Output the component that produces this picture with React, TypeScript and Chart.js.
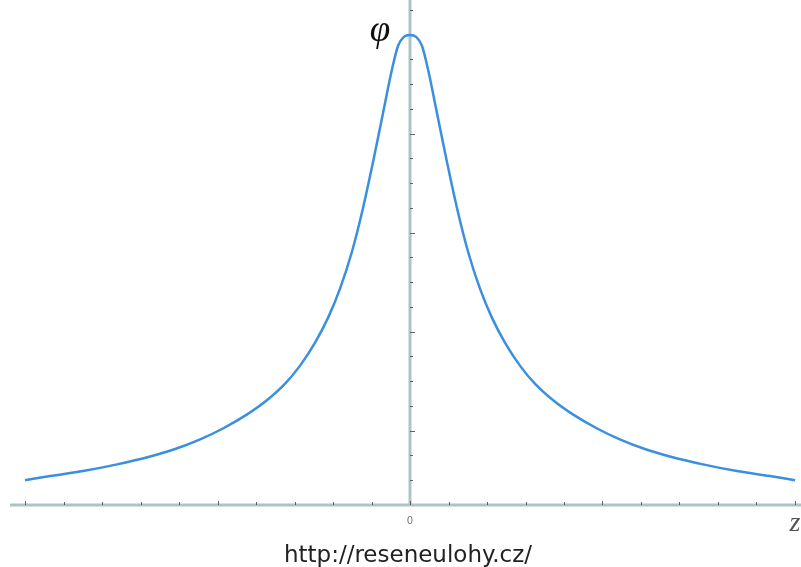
import React, { useEffect, useRef } from "react";
import { Chart, registerables } from "chart.js";

Chart.register(...registerables);

// z values (axis units) and potential values
const zValues = [
  -10, -9.35, -8.49, -7.61, -6.75, -6.1, -5.45, -4.86, -4.23, -3.71, -3.25, -2.86, -2.47, -2.13, -1.82, -1.51, -1.22, -0.96, -0.7, -0.47, -0.31, -0.16,
  0,
  0.16, 0.31, 0.47, 0.7, 0.96, 1.22, 1.51, 1.82, 2.13, 2.47, 2.86, 3.25, 3.71, 4.23, 4.86, 5.45, 6.1, 6.75, 7.61, 8.49, 9.35, 10,
];
const phiValues = [
  1.0, 1.17, 1.37, 1.64, 1.96, 2.26, 2.65, 3.09, 3.66, 4.24, 4.89, 5.62, 6.55, 7.56, 8.73, 10.22, 12.0, 13.86, 15.84, 17.58, 18.55, 18.91,
  18.99,
  18.91, 18.55, 17.58, 15.84, 13.86, 12.0, 10.22, 8.73, 7.56, 6.55, 5.62, 4.89, 4.24, 3.66, 3.09, 2.65, 2.26, 1.96, 1.64, 1.37, 1.17, 1.0,
];

const xTicks = [-10, -9, -8, -7, -6, -5, -4, -3, -2, -1, 0, 1, 2, 3, 4, 5, 6, 7, 8, 9, 10];
const xMajorTicks = [-10, -5, 0, 5, 10];
const yTicks = [1, 2, 3, 4, 5, 6, 7, 8, 9, 10, 11, 12, 13, 14, 15, 16, 17, 18, 19, 20];
const yMajorTicks = [3, 7, 11, 15, 19];
const originLabel = "0";
const xAxisTitle = "z";
const yAxisTitle = "φ";
const footerText = "http://reseneulohy.cz/";

const axesPlugin = {
  id: "centerAxes",
  beforeDatasetsDraw(chart: any) {
    const ctx = chart.ctx;
    const xs = chart.scales.x;
    const ys = chart.scales.y;
    const x0 = xs.getPixelForValue(0);
    const y0 = ys.getPixelForValue(0);
    ctx.save();
    ctx.strokeStyle = "#aec3c6";
    ctx.lineWidth = 3;
    ctx.beginPath();
    ctx.moveTo(xs.left, y0);
    ctx.lineTo(chart.width, y0);
    ctx.stroke();
    ctx.beginPath();
    ctx.moveTo(x0, ys.top);
    ctx.lineTo(x0, y0);
    ctx.stroke();

    ctx.strokeStyle = "rgba(70,75,75,0.85)";
    ctx.lineWidth = 1;
    xTicks.forEach((t) => {
      const px = Math.round(xs.getPixelForValue(t)) + 0.5;
      const major = xMajorTicks.includes(t);
      ctx.beginPath();
      ctx.moveTo(px, y0 - (major ? 4 : 3));
      ctx.lineTo(px, y0);
      ctx.stroke();
    });
    yTicks.forEach((t) => {
      const py = Math.round(ys.getPixelForValue(t)) + 0.5;
      const major = yMajorTicks.includes(t);
      ctx.beginPath();
      ctx.moveTo(x0, py);
      ctx.lineTo(x0 + (major ? 5 : 3), py);
      ctx.stroke();
    });
    ctx.restore();
  },
  afterDraw(chart: any) {
    const ctx = chart.ctx;
    const xs = chart.scales.x;
    const ys = chart.scales.y;
    const x0 = xs.getPixelForValue(0);
    const y0 = ys.getPixelForValue(0);
    ctx.save();
    ctx.textAlign = "center";
    ctx.textBaseline = "middle";
    ctx.fillStyle = "#777";
    ctx.font = "10px 'DejaVu Sans'";
    ctx.fillText(originLabel, x0, y0 + 16);

    ctx.fillStyle = "#555";
    ctx.font = "italic 28px 'Liberation Serif'";
    ctx.fillText(xAxisTitle, chart.width - 6, y0 + 19);

    ctx.fillStyle = "#111";
    ctx.font = "italic 37px 'Liberation Serif'";
    ctx.fillText(yAxisTitle, x0 - 30, 31);

    ctx.fillStyle = "#222";
    ctx.font = "23px 'DejaVu Sans'";
    ctx.textBaseline = "alphabetic";
    ctx.fillText(footerText, x0 - 2, 562);
    ctx.restore();
  },
};

export default function App() {
  const ref = useRef<HTMLCanvasElement>(null);
  useEffect(() => {
    if (!ref.current) return;
    const points = zValues.map((z, i) => ({ x: z, y: phiValues[i] }));
    const chart = new Chart(ref.current, {
      type: "line",
      data: {
        datasets: [
          {
            data: points,
            borderColor: "#3a8fdf",
            borderWidth: 2.5,
            pointRadius: 0,
            cubicInterpolationMode: "monotone",
            fill: false,
          },
        ],
      },
      options: {
        responsive: false,
        animation: false,
        layout: { padding: { left: 10, right: 1, top: 0, bottom: 62 } },
        plugins: { legend: { display: false }, tooltip: { enabled: false } },
        scales: {
          x: { type: "linear", min: -10.39, max: 10.13, display: false },
          y: { type: "linear", min: 0, max: 20.4, display: false },
        },
      },
      plugins: [axesPlugin],
    } as any);
    return () => chart.destroy();
  }, []);
  return (
    <div style={{ position: "absolute", left: 0, top: 0, width: 801, height: 567, background: "#fff" }}>
      <canvas ref={ref} width={801} height={567} style={{ display: "block" }} />
    </div>
  );
}
